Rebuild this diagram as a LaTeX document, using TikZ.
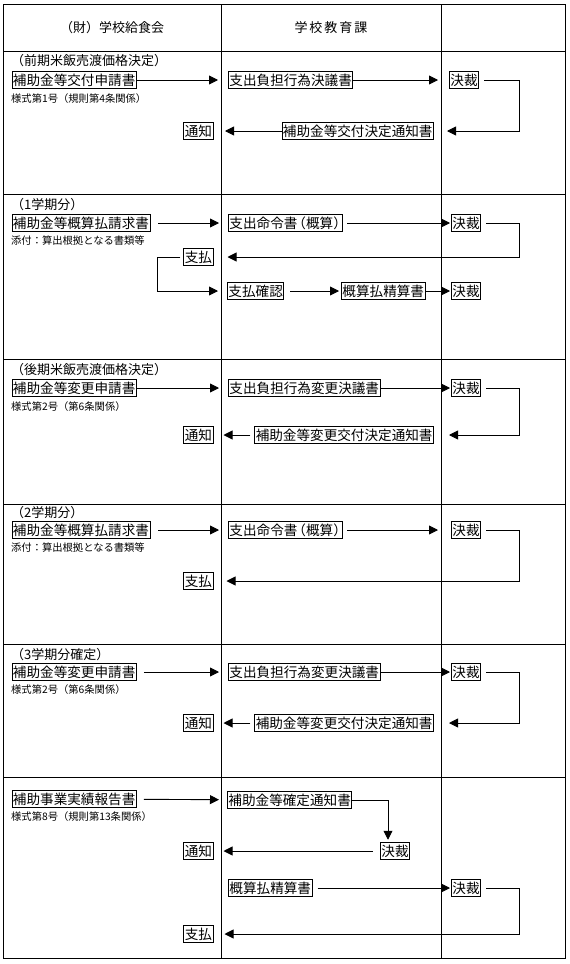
\documentclass[tikz,border=0pt]{standalone}
\usepackage{fontspec}
\setmainfont{Noto Sans CJK JP}
\usetikzlibrary{arrows.meta}
\tikzset{
  box/.style={draw, line width=0.9pt, inner xsep=1pt, inner ysep=2pt,
    font=\fontsize{13.6}{14}\selectfont, text height=12pt, text depth=1.6pt},
  wbox/.style={box, anchor=west},
  ebox/.style={box, anchor=east},
  lbl/.style={anchor=west, inner sep=0pt, font=\fontsize{13}{14}\selectfont},
  small/.style={anchor=west, inner sep=0pt, font=\fontsize{10.3}{11}\selectfont},
  head/.style={inner sep=0pt, font=\fontsize{13}{14}\selectfont},
  arr/.style={line width=0.9pt, -{Triangle[length=9pt,width=9pt]}},
  ln/.style={line width=0.9pt},
}
\newcommand{\gaisan}{支出命令書\kern-5pt（概算）\kern-5pt}
\begin{document}
\begin{tikzpicture}[x=1pt,y=-1pt]
\useasboundingbox (0,0) rectangle (570,964);
% table
\draw[ln] (3,4) rectangle (565,958);
\draw[ln] (221,4) -- (221,958);
\draw[ln] (441,4) -- (441,958);
\foreach \yy in {51,194,359,504,644,777} \draw[ln] (3,\yy) -- (565,\yy);
\node[head] (h1) at (112,27.5) {（財）学校給食会};
\node[head] (h2) at (331,27.5) {学\hspace{2pt}校\hspace{2pt}教\hspace{2pt}育\hspace{2pt}課};
\coordinate (rx) at (519,0);
\coordinate (lx) at (157,0);

% ---- section 1
\node[lbl] (l1) at (11,61) {（前期米飯売渡価格決定）};
\node[wbox] (a1) at (11.5,80) {補助金等交付申請書};
\node[small] (s1) at (11,99) {様式第1号（規則第4条関係）};
\node[wbox] (b1) at (228,80) {支出負担行為決議書};
\node[wbox] (c1) at (449,80) {決裁};
\node[ebox] (n1) at (434,131) {補助金等交付決定通知書};
\node[ebox] (t1) at (213.5,131) {通知};
\draw[arr, shorten >=10pt] (a1) -- (b1);
\draw[arr, shorten >=11pt] (b1) -- (c1);
\draw[arr] ([xshift=5pt]c1.east) -- (c1.east -| rx) |- ([xshift=13pt]n1.east);
\draw[arr, shorten >=11.5pt] (n1) -- (t1);

% ---- section 2
\node[lbl] (l2) at (11,205) {（1学期分）};
\node[wbox] (a2) at (11.5,223) {補助金等概算払請求書};
\node[small] (s2) at (11,241) {添付：算出根拠となる書類等};
\node[wbox] (b2) at (228,223) {\gaisan};
\node[wbox] (c2) at (451,223) {決裁};
\node[ebox] (p2) at (213.5,257) {支払};
\node[wbox] (q2) at (227,291) {支払確認};
\node[wbox] (r2) at (341,291) {概算払精算書};
\node[wbox] (c2b) at (451,291) {決裁};
\draw[arr, shorten <=8pt, shorten >=9pt] (a2) -- (b2);
\draw[arr, shorten <=4pt, shorten >=1pt] (b2) -- (c2);
\draw[arr] ([xshift=5pt]c2.east) -- (c2.east -| rx) |- ([xshift=14pt]p2.east);
\draw[arr] ([xshift=-3pt]p2.west) -- (p2.west -| lx) |- ([xshift=-9pt]q2.west);
\draw[arr, shorten <=6pt, shorten >=2pt] (q2) -- (r2);
\draw[arr, shorten >=1pt] (r2) -- (c2b);

% ---- section 3
\node[lbl] (l3) at (11,370) {（後期米飯売渡価格決定）};
\node[wbox] (a3) at (11.5,388) {補助金等変更申請書};
\node[small] (s3) at (11,407) {様式第2号（第6条関係）};
\node[wbox] (b3) at (228,388) {支出負担行為変更決議書};
\node[wbox] (c3) at (451,388) {決裁};
\node[ebox] (n3) at (434,435) {補助金等変更交付決定通知書};
\node[ebox] (t3) at (213.5,435) {通知};
\draw[arr, shorten >=9pt] (a3) -- (b3);
\draw[arr, shorten >=1pt] (b3) -- (c3);
\draw[arr] ([xshift=5pt]c3.east) -- (c3.east -| rx) |- ([xshift=15pt]n3.east);
\draw[arr, shorten <=4pt, shorten >=10pt] (n3) -- (t3);

% ---- section 4
\node[lbl] (l4) at (11,513) {（2学期分）};
\node[wbox] (a4) at (11.5,530) {補助金等概算払請求書};
\node[small] (s4) at (11,548) {添付：算出根拠となる書類等};
\node[wbox] (b4) at (228,530) {\gaisan};
\node[wbox] (c4) at (451,530) {決裁};
\node[ebox] (p4) at (213.5,581) {支払};
\draw[arr, shorten <=8pt, shorten >=9pt] (a4) -- (b4);
\draw[arr, shorten <=4pt, shorten >=13pt] (b4) -- (c4);
\draw[arr] ([xshift=5pt]c4.east) -- (c4.east -| rx) |- ([xshift=13pt]p4.east);

% ---- section 5
\node[lbl] (l5) at (11,655) {（3学期分確定）};
\node[wbox] (a5) at (11.5,672) {補助金等変更申請書};
\node[small] (s5) at (11,690) {様式第2号（第6条関係）};
\node[wbox] (b5) at (228,672) {支出負担行為変更決議書};
\node[wbox] (c5) at (451,672) {決裁};
\node[ebox] (n5) at (434,723) {補助金等変更交付決定通知書};
\node[ebox] (t5) at (213.5,723) {通知};
\draw[arr, shorten <=7pt, shorten >=9pt] (a5) -- (b5);
\draw[arr, shorten >=1pt] (b5) -- (c5);
\draw[arr] ([xshift=5pt]c5.east) -- (c5.east -| rx) |- ([xshift=15pt]n5.east);
\draw[arr, shorten <=4pt, shorten >=10pt] (n5) -- (t5);

% ---- section 6
\node[wbox] (a6) at (11.5,799) {補助事業実績報告書};
\node[small] (s6) at (11,817) {様式第8号（規則第13条関係）};
\node[wbox] (b6) at (227,800) {補助金等確定通知書};
\node[box] (d6) at (395,851) {決裁};
\node[ebox] (t6) at (213.5,851) {通知};
\node[wbox] (r6) at (228,888) {概算払精算書};
\node[wbox] (c6) at (451,888) {決裁};
\node[ebox] (p6) at (213.5,934) {支払};
\draw[arr, shorten <=7pt, shorten >=8pt] (a6) -- (b6);
\draw[arr, shorten >=2pt] (b6.east) -| ([xshift=-7pt]d6.north);
\draw[arr, shorten <=7pt, shorten >=10pt] (d6) -- (t6);
\draw[arr, shorten <=5pt, shorten >=1pt] (r6) -- (c6);
\draw[arr] ([xshift=5pt]c6.east) -- (c6.east -| rx) |- ([xshift=11pt]p6.east);
\end{tikzpicture}
\end{document}
